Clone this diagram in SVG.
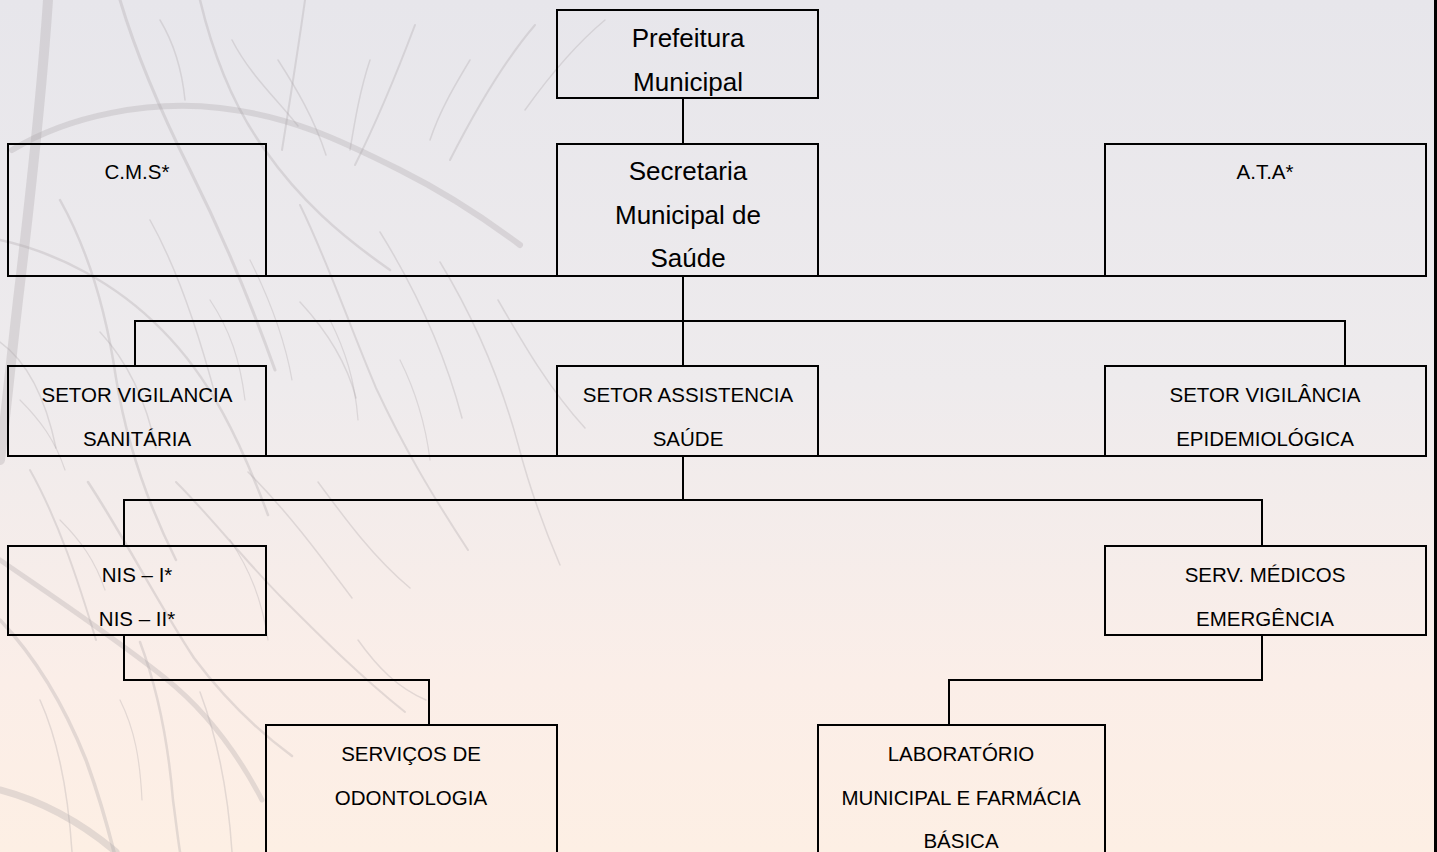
<svg xmlns="http://www.w3.org/2000/svg" width="1437" height="852" viewBox="0 0 1437 852">
<defs>
<linearGradient id="sky" x1="0" y1="0" x2="0" y2="1">
<stop offset="0" stop-color="#e7e6eb"/>
<stop offset="0.45" stop-color="#eeebed"/>
<stop offset="0.8" stop-color="#fbeee8"/>
<stop offset="1" stop-color="#fdefe4"/>
</linearGradient>
<style>
.box{fill:none;stroke:#000;stroke-width:2}
.ln{fill:none;stroke:#000;stroke-width:2}
.br{fill:none;stroke:#a9a3a4;stroke-linecap:round;opacity:0.3}
.big{font-family:"Liberation Sans",Arial,sans-serif;font-size:26px;fill:#000;text-anchor:middle}
.sm{font-family:"Liberation Sans",Arial,sans-serif;font-size:20.5px;fill:#000;text-anchor:middle}
</style>
</defs>
<rect x="0" y="0" width="1437" height="852" fill="url(#sky)"/>
<g id="tree">
<path class="br" stroke-width="10" d="M48 0 C42 90 30 200 18 300 C10 370 4 430 0 460"/>
<path class="br" stroke-width="6" d="M12 150 C70 115 150 100 220 108 C290 116 340 140 400 170 C440 190 480 215 520 245"/>
<path class="br" stroke-width="3" d="M120 0 C135 50 160 110 190 170 C220 230 250 300 275 370"/>
<path class="br" stroke-width="2.5" d="M200 0 C212 50 232 105 265 150 C300 200 340 235 390 270"/>
<path class="br" stroke-width="2" d="M305 0 C298 50 290 100 282 150"/>
<path class="br" stroke-width="2" d="M415 25 C398 70 380 115 355 165"/>
<path class="br" stroke-width="2" d="M535 25 C505 60 478 105 450 160"/>
<path class="br" stroke-width="1.5" d="M605 20 C575 45 550 75 525 110"/>
<path class="br" stroke-width="1.5" d="M278 60 C296 88 314 118 326 155"/>
<path class="br" stroke-width="1.5" d="M232 40 C250 75 276 98 298 126"/>
<path class="br" stroke-width="1.5" d="M160 20 C175 45 182 70 185 100"/>
<path class="br" stroke-width="1.5" d="M370 60 C360 90 355 120 350 150"/>
<path class="br" stroke-width="1.5" d="M470 60 C455 85 440 110 430 140"/>
<path class="br" stroke-width="2.5" d="M0 240 C55 252 115 282 162 330 C210 378 240 440 268 515"/>
<path class="br" stroke-width="2.5" d="M60 200 C88 250 106 310 116 378 C126 440 146 500 176 560"/>
<path class="br" stroke-width="1.5" d="M150 220 C178 270 198 330 216 398"/>
<path class="br" stroke-width="2" d="M300 205 C328 262 348 322 376 388 C404 448 432 495 468 550"/>
<path class="br" stroke-width="1.5" d="M380 232 C416 290 444 350 462 418"/>
<path class="br" stroke-width="1.5" d="M440 262 C474 318 500 378 518 444 C530 490 545 530 560 565"/>
<path class="br" stroke-width="1.5" d="M498 300 C524 345 550 390 585 428"/>
<path class="br" stroke-width="1.2" d="M250 260 C270 300 285 340 292 380"/>
<path class="br" stroke-width="1.2" d="M210 300 C230 330 240 360 245 400"/>
<path class="br" stroke-width="1.2" d="M330 320 C345 350 355 380 358 420"/>
<path class="br" stroke-width="1.2" d="M400 360 C415 390 425 420 430 460"/>
<path class="br" stroke-width="5" d="M0 560 C55 598 115 638 165 678 C205 710 236 750 262 800"/>
<path class="br" stroke-width="3.5" d="M0 620 C38 660 66 710 86 760 C97 790 106 820 114 852"/>
<path class="br" stroke-width="2" d="M30 470 C58 520 78 580 96 640"/>
<path class="br" stroke-width="2.5" d="M88 482 C126 540 156 600 194 658 C224 698 254 728 292 756"/>
<path class="br" stroke-width="2" d="M176 482 C214 520 244 560 284 600 C322 638 360 676 405 712"/>
<path class="br" stroke-width="1.5" d="M248 472 C286 510 316 550 352 598"/>
<path class="br" stroke-width="1.5" d="M318 482 C346 520 374 558 410 588"/>
<path class="br" stroke-width="2.5" d="M140 642 C158 690 168 740 173 800 C176 822 178 840 180 852"/>
<path class="br" stroke-width="1.5" d="M40 700 C58 740 68 790 72 852"/>
<path class="br" stroke-width="1.5" d="M200 692 C218 740 228 790 232 852"/>
<path class="br" stroke-width="7" d="M0 790 C38 800 78 820 116 852"/>
<path class="br" stroke-width="1.5" d="M300 302 C326 330 346 360 356 398"/>
<path class="br" stroke-width="1.5" d="M100 332 C126 360 146 400 156 448"/>
<path class="br" stroke-width="1.5" d="M0 342 C28 362 46 400 56 448"/>
<path class="br" stroke-width="1.5" d="M358 640 C378 668 398 688 426 700"/>
<path class="br" stroke-width="1.2" d="M60 520 C80 540 95 560 105 590"/>
<path class="br" stroke-width="1.2" d="M230 540 C250 570 262 600 268 640"/>
<path class="br" stroke-width="1.2" d="M120 700 C135 730 140 760 142 800"/>
<path class="br" stroke-width="1.2" d="M20 400 C40 420 55 440 65 470"/>
</g>
<line x1="1435.5" y1="0" x2="1435.5" y2="852" stroke="#000" stroke-width="3"/>
<g id="connectors">
<line class="ln" x1="683" y1="98" x2="683" y2="144"/>
<line class="ln" x1="8" y1="276" x2="1426" y2="276"/>
<line class="ln" x1="8" y1="456" x2="1426" y2="456"/>
<path class="ln" d="M683 276 V321 M135 366 V321 H1345 V366 M683 321 V366"/>
<path class="ln" d="M683 456 V500 M124 546 V500 H1262 V546"/>
<path class="ln" d="M124 635 V680 H429 V725"/>
<path class="ln" d="M1262 635 V680 H949 V725"/>
</g>
<g id="prefeitura">
<rect class="box" x="557" y="10" width="261" height="88"/>
<text class="big" x="688" y="47">Prefeitura</text>
<text class="big" x="688" y="91">Municipal</text>
</g>
<g id="cms">
<rect class="box" x="8" y="144" width="258" height="132"/>
<text class="sm" x="137" y="179">C.M.S*</text>
</g>
<g id="secretaria">
<rect class="box" x="557" y="144" width="261" height="132"/>
<text class="big" x="688" y="180">Secretaria</text>
<text class="big" x="688" y="224">Municipal de</text>
<text class="big" x="688" y="267">Saúde</text>
</g>
<g id="ata">
<rect class="box" x="1105" y="144" width="321" height="132"/>
<text class="sm" x="1265" y="179">A.T.A*</text>
</g>
<g id="vig-sanitaria">
<rect class="box" x="8" y="366" width="258" height="90"/>
<text class="sm" x="137" y="402">SETOR VIGILANCIA</text>
<text class="sm" x="137" y="446">SANITÁRIA</text>
</g>
<g id="assistencia">
<rect class="box" x="557" y="366" width="261" height="90"/>
<text class="sm" x="688" y="402">SETOR ASSISTENCIA</text>
<text class="sm" x="688" y="446">SAÚDE</text>
</g>
<g id="vig-epidemiologica">
<rect class="box" x="1105" y="366" width="321" height="90"/>
<text class="sm" x="1265" y="402">SETOR VIGILÂNCIA</text>
<text class="sm" x="1265" y="446">EPIDEMIOLÓGICA</text>
</g>
<g id="nis">
<rect class="box" x="8" y="546" width="258" height="89"/>
<text class="sm" x="137" y="582">NIS – I*</text>
<text class="sm" x="137" y="626">NIS – II*</text>
</g>
<g id="serv-medicos">
<rect class="box" x="1105" y="546" width="321" height="89"/>
<text class="sm" x="1265" y="582">SERV. MÉDICOS</text>
<text class="sm" x="1265" y="626">EMERGÊNCIA</text>
</g>
<g id="odontologia">
<rect class="box" x="266" y="725" width="291" height="140"/>
<text class="sm" x="411" y="761">SERVIÇOS DE</text>
<text class="sm" x="411" y="805">ODONTOLOGIA</text>
</g>
<g id="laboratorio">
<rect class="box" x="818" y="725" width="287" height="140"/>
<text class="sm" x="961" y="761">LABORATÓRIO</text>
<text class="sm" x="961" y="805">MUNICIPAL E FARMÁCIA</text>
<text class="sm" x="961" y="848">BÁSICA</text>
</g>
</svg>
